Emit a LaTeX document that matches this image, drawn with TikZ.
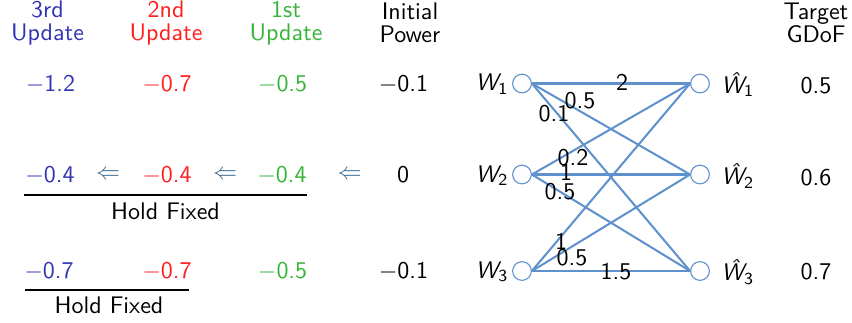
\documentclass[tikz,border=0pt]{standalone}
\definecolor{cblue}{RGB}{51,51,179}
\definecolor{cred}{RGB}{255,30,30}
\definecolor{cgreen}{RGB}{55,180,55}
\definecolor{carrow}{RGB}{55,105,145}
\definecolor{cedge}{RGB}{95,145,205}
\tikzset{
  txt/.style={inner sep=0pt, font=\fontsize{10}{9.4}\selectfont\sffamily, align=center},
  hdr/.style={txt},
  lbl/.style={txt},
  vtx/.style={circle, draw=cedge, line width=0.45pt, fill=white, minimum size=7.8pt, inner sep=0pt},
  edge/.style={draw=cedge, line width=0.85pt},
  rule/.style={draw=black, line width=1.1pt}
}
\begin{document}
\begin{tikzpicture}[x=0.41667pt,y=-0.41667pt]
\useasboundingbox (0,0) rectangle (852,322);
% headers
\node[hdr, text=cblue] (h3) at (47.5,23) {3rd\\Update};
\node[hdr, text=cred] (h2) at (166,23) {2nd\\Update};
\node[hdr, text=cgreen] (h1) at (286,23) {1st\\Update};
\node[hdr] (h0) at (410,23) {Initial\\Power};
\node[hdr] (ht) at (816,23) {Target\\GDoF};
% row 1
\node[txt, text=cblue] (a1) at (50.5,84) {$-$1.2};
\node[txt, text=cred] (b1) at (167,84) {$-$0.7};
\node[txt, text=cgreen] (c1) at (282.5,84) {$-$0.5};
\node[txt] (d1) at (403.5,84) {$-$0.1};
% row 2
\node[txt, text=cblue] (a2) at (50,175) {$-$0.4};
\node[txt, text=carrow] (ar1) at (108,175) {$\Leftarrow$};
\node[txt, text=cred] (b2) at (167,175) {$-$0.4};
\node[txt, text=carrow] (ar2) at (225,175) {$\Leftarrow$};
\node[txt, text=cgreen] (c2) at (282,175) {$-$0.4};
\node[txt, text=carrow] (ar3) at (349.5,175) {$\Leftarrow$};
\node[txt] (d2) at (403,175) {0};
\coordinate (r2a) at (24,195);
\coordinate (r2b) at (307,195);
\draw[rule] (r2a) -- (r2b);
\node[txt] (hf2) at (165.5,211) {Hold Fixed};
% row 3
\node[txt, text=cblue] (a3) at (49,271.5) {$-$0.7};
\node[txt, text=cred] (b3) at (167,271.5) {$-$0.7};
\node[txt, text=cgreen] (c3) at (282.5,271.5) {$-$0.5};
\node[txt] (d3) at (403.5,271.5) {$-$0.1};
\coordinate (r3a) at (25,290);
\coordinate (r3b) at (189,290);
\draw[rule] (r3a) -- (r3b);
\node[txt] (hf3) at (109,305.5) {Hold Fixed};
% graph vertices
\node[vtx] (w1) at (522,83.5) {};
\node[vtx] (w2) at (522,174.5) {};
\node[vtx] (w3) at (522,271) {};
\node[vtx] (v1) at (700,83.5) {};
\node[vtx] (v2) at (700,174.5) {};
\node[vtx] (v3) at (700,271) {};
\node[txt, anchor=east] (lw1) at (509,84) {{\itshape W}\textsubscript{1}};
\node[txt, anchor=east] (lw2) at (509,175.5) {{\itshape W}\textsubscript{2}};
\node[txt, anchor=east] (lw3) at (509,272) {{\itshape W}\textsubscript{3}};
\node[txt, anchor=west] (lv1) at (721,84.5) {{\itshape \^W}\textsubscript{1}};
\node[txt, anchor=west] (lv2) at (721,176) {{\itshape \^W}\textsubscript{2}};
\node[txt, anchor=west] (lv3) at (721,272.5) {{\itshape \^W}\textsubscript{3}};
% edges
\foreach \s in {1,2,3}{
  \foreach \t in {1,2,3}{
    \draw[edge] (w\s.east) -- (v\t.west);
  }
}
% edge labels
\node[lbl] (e11) at (622,82.5) {2};
\node[lbl] (e12) at (580,100.5) {0.5};
\node[lbl] (e13) at (554,114) {0.1};
\node[lbl] (e21) at (573,157.5) {0.2};
\node[lbl] (e22) at (566,172.5) {1};
\node[lbl] (e23) at (560,192) {0.5};
\node[lbl] (e31) at (561,241) {1};
\node[lbl] (e32) at (572,257.5) {0.5};
\node[lbl] (e33) at (616,271.5) {1.5};
% target values
\node[txt] (t1) at (816,86) {0.5};
\node[txt] (t2) at (816,178) {0.6};
\node[txt] (t3) at (816,272) {0.7};
\end{tikzpicture}
\end{document}
